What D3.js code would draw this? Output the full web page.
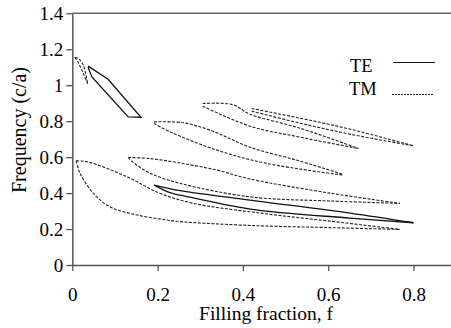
<!DOCTYPE html>
<html>
<head>
<meta charset="utf-8">
<script src="https://cdn.jsdelivr.net/npm/d3@7"></script>
<style>
  body { margin: 0; background: #fff; }
  svg { display: block; }
  text { font-family: "Liberation Serif", "Times New Roman", serif; fill: #000; }
</style>
</head>
<body>
<div id="chart"></div>
<script>
// tick values
const xTicks = [0, 0.2, 0.4, 0.6, 0.8];
const yTicks = [0, 0.2, 0.4, 0.6, 0.8, 1, 1.2, 1.4];

// TE gap edges, [filling fraction, frequency]
const teUpperGap = [[0.037, 1.106], [0.084, 1.033], [0.161, 0.822], [0.131, 0.824], [0.046, 1.046], [0.037, 1.100]];
const teLowerTop = [[0.192, 0.444], [0.245, 0.417], [0.417, 0.361], [0.651, 0.289], [0.800, 0.235]];
const teLowerBottom = [[0.192, 0.444], [0.229, 0.402], [0.253, 0.389], [0.417, 0.311], [0.651, 0.261], [0.800, 0.235]];

// TM gap edges
const tmA1 = [[0.006, 1.155], [0.016, 1.145], [0.026, 1.11], [0.036, 1.008]];
const tmA2 = [[0.006, 1.155], [0.013, 1.13], [0.025, 1.07], [0.036, 1.008]];
const tmBTop = [[0.009, 0.579], [0.035, 0.574], [0.128, 0.491], [0.206, 0.398], [0.284, 0.343], [0.44, 0.289], [0.604, 0.244], [0.768, 0.198]];
const tmBBottom = [[0.009, 0.579], [0.018, 0.511], [0.049, 0.40], [0.088, 0.324], [0.152, 0.278], [0.222, 0.25], [0.253, 0.241], [0.428, 0.219], [0.604, 0.208], [0.768, 0.198]];
const tmCTop = [[0.131, 0.598], [0.182, 0.592], [0.253, 0.567], [0.339, 0.528], [0.417, 0.478], [0.604, 0.40], [0.768, 0.343]];
const tmCBottom = [[0.131, 0.598], [0.142, 0.572], [0.182, 0.511], [0.253, 0.454], [0.417, 0.379], [0.604, 0.356], [0.768, 0.343]];
const tmDTop = [[0.1915, 0.796], [0.260, 0.791], [0.323, 0.75], [0.417, 0.655], [0.534, 0.578], [0.635, 0.504]];
const tmDBottom = [[0.1915, 0.787], [0.229, 0.741], [0.339, 0.639], [0.456, 0.565], [0.635, 0.50]];
const tmETop = [[0.3057, 0.898], [0.3745, 0.893], [0.4167, 0.839], [0.534, 0.761], [0.671, 0.648]];
const tmEBottom = [[0.3057, 0.883], [0.4167, 0.772], [0.534, 0.711], [0.671, 0.648]];
const tmFTop = [[0.4206, 0.8706], [0.534, 0.8167], [0.651, 0.7556], [0.80, 0.6628]];
const tmFBottom = [[0.4206, 0.8556], [0.534, 0.7889], [0.651, 0.7278], [0.80, 0.6628]];

const teCurves = [teLowerTop, teLowerBottom];
const tmCurves = [tmA1, tmA2, tmBTop, tmBBottom, tmCTop, tmCBottom, tmDTop, tmDBottom, tmETop, tmEBottom, tmFTop, tmFBottom];

const W = 451, H = 328;
const margin = { top: 13.3, left: 72.3, bottom: 63 };

const svg = d3.select('#chart').append('svg')
  .attr('width', W)
  .attr('height', H);

const x = d3.scaleLinear().domain([0, 0.9]).range([margin.left, margin.left + 426.5 * 0.9]);
const y = d3.scaleLinear().domain([0, 1.4]).range([H - margin.bottom, margin.top]);

// top frame line
svg.append('line')
  .attr('x1', x(0)).attr('x2', W)
  .attr('y1', y(1.4)).attr('y2', y(1.4))
  .attr('stroke', '#666').attr('stroke-width', 1.5);

const xAxis = svg.append('g')
  .attr('transform', `translate(0,${y(0)})`)
  .call(d3.axisBottom(x).tickValues(xTicks).tickSize(6).tickSizeOuter(0).tickFormat(d3.format('')));
const yAxis = svg.append('g')
  .attr('transform', `translate(${x(0)},0)`)
  .call(d3.axisLeft(y).tickValues(yTicks).tickSize(6).tickSizeOuter(0).tickFormat(d3.format('')));

[xAxis, yAxis].forEach(g => {
  g.select('.domain').attr('stroke', '#555').attr('stroke-width', 1.5);
  g.selectAll('.tick line').attr('stroke', '#555').attr('stroke-width', 1.3);
  g.selectAll('.tick text')
    .style('font-family', '"Liberation Serif", serif')
    .style('font-size', '19px')
    .attr('fill', '#000');
});
xAxis.selectAll('.tick text').attr('dy', 0).attr('y', 36);
yAxis.selectAll('.tick text').attr('x', -9).attr('dy', '0.34em');

svg.append('text')
  .attr('x', 266).attr('y', 320)
  .attr('text-anchor', 'middle')
  .style('font-size', '19.5px')
  .text('Filling fraction, f');

svg.append('text')
  .attr('transform', `translate(26,130) rotate(-90)`)
  .attr('text-anchor', 'middle')
  .style('font-size', '20px')
  .text('Frequency (c/a)');

const edge = d3.line()
  .x(d => x(d[0]))
  .y(d => y(d[1]))
  .curve(d3.curveCatmullRom.alpha(0.5));

const plot = svg.append('g');

plot.append('path')
  .datum(teUpperGap)
  .attr('d', d3.line().x(d => x(d[0])).y(d => y(d[1])))
  .attr('fill', 'none').attr('stroke', '#111').attr('stroke-width', 1.3);

plot.selectAll('.te')
  .data(teCurves)
  .enter().append('path')
  .attr('class', 'te')
  .attr('d', edge)
  .attr('fill', 'none').attr('stroke', '#111').attr('stroke-width', 1.3);

plot.selectAll('.tm')
  .data(tmCurves)
  .enter().append('path')
  .attr('class', 'tm')
  .attr('d', edge)
  .attr('fill', 'none').attr('stroke', '#222').attr('stroke-width', 1.1)
  .attr('stroke-dasharray', '3,1.5');

// legend
svg.append('text').attr('x', 350).attr('y', 72).style('font-size', '18.5px').text('TE');
svg.append('text').attr('x', 349).attr('y', 95).style('font-size', '18.5px').text('TM');
svg.append('line').attr('x1', 393).attr('x2', 435).attr('y1', 62.5).attr('y2', 62.5)
  .attr('stroke', '#111').attr('stroke-width', 1.2);
svg.append('line').attr('x1', 392).attr('x2', 434).attr('y1', 94.5).attr('y2', 94.5)
  .attr('stroke', '#222').attr('stroke-width', 1).attr('stroke-dasharray', '2,1');
</script>
</body>
</html>
